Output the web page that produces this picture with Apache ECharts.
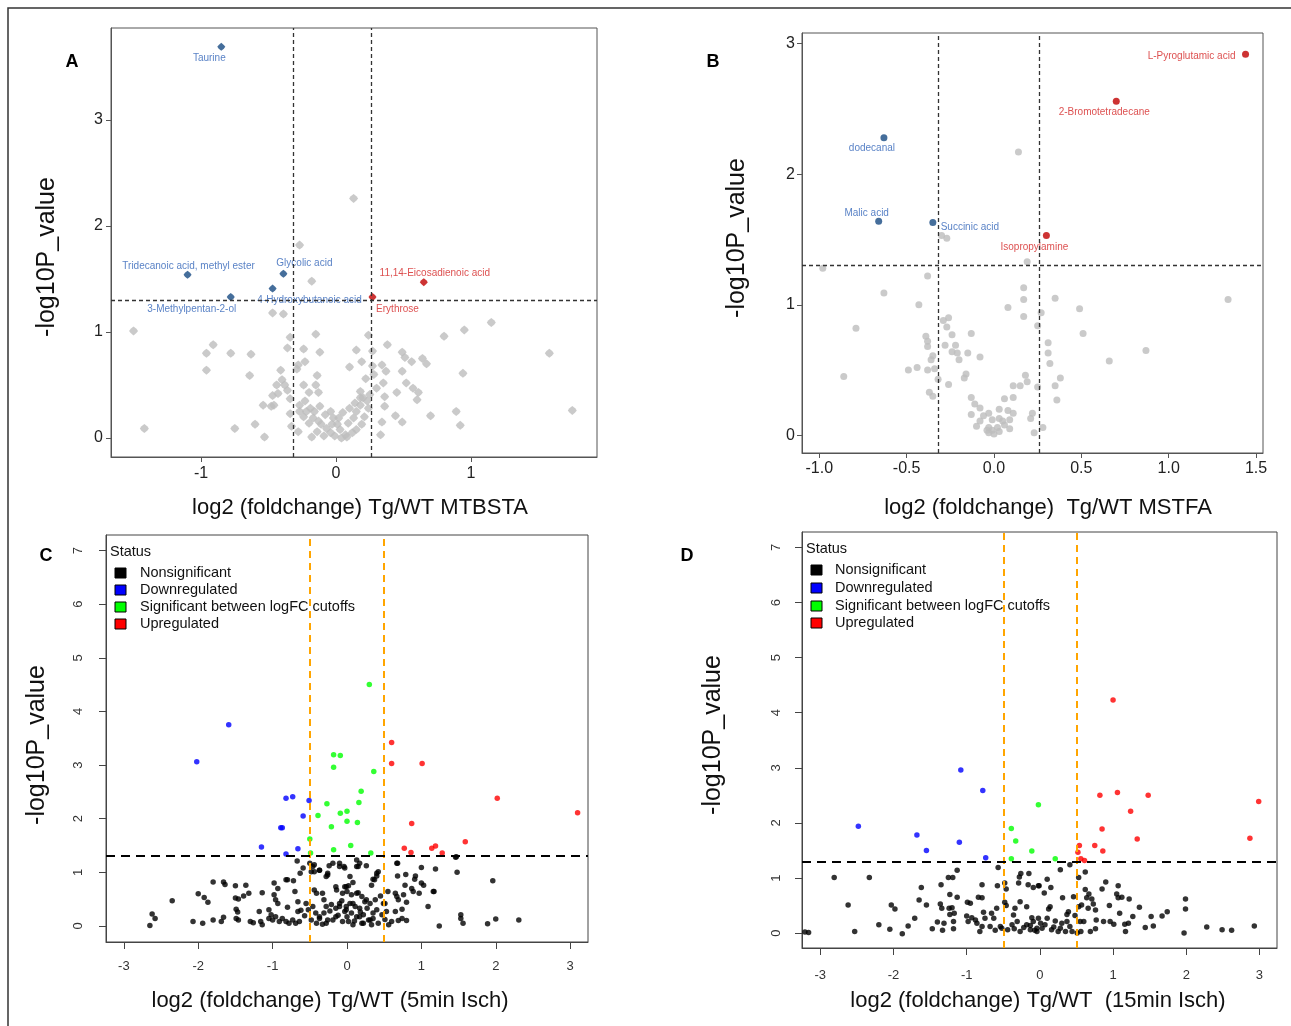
<!DOCTYPE html>
<html>
<head>
<meta charset="utf-8">
<script src="https://cdn.jsdelivr.net/npm/echarts@6/dist/echarts.min.js"></script>
<style>
  html, body { margin: 0; padding: 0; background: #fff; }
  #chart { width: 1291px; height: 1026px; }
</style>
</head>
<body>
<div id="chart"></div>
<script>
// ---- panel A (MTBSTA) ----
var aXTicks = [-1, 0, 1];
var aYTicks = [0, 1, 2, 3];
var aGray = [
  [0.13,2.26],[-0.27,1.82],[-0.18,1.48],[-0.47,1.18],[-0.39,1.17],[-1.50,1.01],[1.15,1.09],[0.95,1.02],[0.80,0.96],[1.58,0.80],[1.75,0.26],[-1.42,0.09],
  [-0.91,0.88],[-0.96,0.80],[-0.78,0.80],[-0.63,0.79],[-0.96,0.64],[-0.64,0.59],[-0.75,0.09],[-0.60,0.13],[-0.53,0.01],
  [0.94,0.61],[0.89,0.25],[0.92,0.12],[0.70,0.21],
  [-0.34,0.95],[-0.15,0.98],[-0.36,0.85],[-0.24,0.84],[-0.12,0.81],[0.24,0.97],[0.38,0.88],[0.15,0.83],[0.27,0.82],
  [0.49,0.81],[0.51,0.76],[0.56,0.72],[0.64,0.75],[0.67,0.70],[0.49,0.63],[0.52,0.52],[0.57,0.47],[0.61,0.43],[0.60,0.36],
  [0.45,0.43],[0.44,0.21],[0.49,0.15],[0.34,0.69],[0.37,0.63],[0.35,0.52],[0.36,0.39],[0.36,0.30],[0.34,0.15],[0.33,0.03],
  [0.27,0.68],[0.22,0.56],[0.19,0.72],[0.10,0.67],[-0.23,0.72],[-0.28,0.69],[-0.14,0.59],[-0.41,0.64],[-0.40,0.55],
  [-0.44,0.50],[-0.38,0.50],[-0.36,0.45],[-0.24,0.50],[-0.15,0.50],[-0.13,0.43],[-0.20,0.43],[-0.47,0.40],[-0.43,0.42],
  [-0.54,0.31],[-0.48,0.30],[-0.46,0.31],[-0.34,0.37],[-0.34,0.23],[-0.33,0.11],[-0.28,0.06],[-0.18,0.01],[-0.29,0.65],
  [-0.27,0.31],[-0.23,0.35],[-0.19,0.28],[-0.16,0.25],[-0.12,0.30],[-0.08,0.22],[-0.04,0.25],[-0.02,0.19],[0.01,0.13],
  [0.03,0.08],[0.07,0.03],[0.09,0.14],[0.13,0.19],[0.15,0.25],[0.18,0.31],[0.20,0.38],[0.23,0.35],[0.24,0.28],[0.21,0.20],
  [0.19,0.13],[0.15,0.08],[0.12,0.05],[0.08,0.01],[0.04,0.00],[-0.01,0.02],[-0.04,0.05],[-0.07,0.09],[-0.11,0.13],
  [-0.13,0.16],[-0.17,0.19],[-0.20,0.14],[-0.24,0.20],[-0.27,0.25],[-0.22,0.25],[-0.14,0.06],[-0.09,0.02],[-0.03,0.13],
  [0.02,0.19],[0.05,0.24],[0.10,0.28],[0.14,0.33],[0.18,0.38],[0.25,0.41],[0.30,0.47],[0.28,0.60],[0.18,0.44]
];
var aDown = [[-0.85,3.69],[-1.10,1.54],[-0.78,1.33],[-0.47,1.41],[-0.39,1.55]];
var aDownNames = ['Taurine', 'Tridecanoic acid, methyl ester', '3-Methylpentan-2-ol', '4-Hydroxybutanoic acid', 'Glycolic acid'];
var aUp = [[0.27,1.33],[0.65,1.47]];
var aUpNames = ['Erythrose', '11,14-Eicosadienoic acid'];

// ---- panel B (MSTFA) ----
var bXTicks = [-1, -0.5, 0, 0.5, 1, 1.5];
var bYTicks = [0, 1, 2, 3];
var bGray = [
  [0.14,2.17],[-0.30,1.53],[-0.27,1.51],[0.19,1.33],[-0.98,1.28],[-0.38,1.22],[0.17,1.13],[-0.63,1.09],[0.17,1.04],[0.35,1.05],
  [1.34,1.04],[-0.43,1.00],[0.08,0.98],[0.49,0.97],[0.27,0.94],[0.17,0.91],[-0.26,0.90],[-0.29,0.88],[0.25,0.84],[-0.27,0.83],
  [-0.79,0.82],[-0.13,0.78],[-0.24,0.77],[0.51,0.78],[-0.39,0.76],[-0.38,0.72],[0.31,0.71],[-0.22,0.69],[-0.28,0.69],[-0.38,0.68],
  [-0.24,0.64],[-0.21,0.63],[-0.15,0.63],[0.31,0.63],[-0.08,0.60],[-0.35,0.61],[0.87,0.65],[-0.36,0.58],[-0.20,0.58],[0.66,0.57],
  [0.32,0.55],[-0.44,0.52],[-0.49,0.50],[-0.38,0.50],[-0.34,0.51],[-0.16,0.47],[-0.17,0.44],[-0.86,0.45],[0.38,0.44],[-0.32,0.43],
  [0.18,0.46],[0.19,0.41],[0.11,0.38],[0.15,0.38],[-0.26,0.39],[-0.37,0.33],[-0.35,0.30],[0.35,0.38],[0.25,0.37],[0.36,0.27],
  [-0.13,0.29],[0.11,0.29],[0.06,0.28],[-0.11,0.24],[-0.08,0.21],[0.03,0.20],[0.08,0.19],[-0.13,0.16],[-0.06,0.15],[-0.03,0.17],
  [-0.01,0.12],[0.03,0.13],[0.05,0.11],[0.09,0.12],[0.11,0.17],[0.21,0.13],[0.22,0.17],[-0.10,0.07],[-0.03,0.06],[-0.01,0.04],
  [0.02,0.06],[0.06,0.08],[0.09,0.05],[-0.03,0.02],[0.00,0.01],[0.03,0.03],[-0.04,0.04],[0.23,0.02],[0.28,0.06],[-0.08,0.11]
];
var bDown = [[-0.63,2.28],[-0.66,1.64],[-0.35,1.63]];
var bDownNames = ['dodecanal', 'Malic acid', 'Succinic acid'];
var bUp = [[1.44,2.92],[0.70,2.56],[0.30,1.53]];
var bUpNames = ['L-Pyroglutamic acid', '2-Bromotetradecane', 'Isopropylamine'];

// ---- panels C and D (ischemia) ----
var cdXTicks = [-3, -2, -1, 0, 1, 2, 3];
var cdYTicks = [0, 1, 2, 3, 4, 5, 6, 7];
var statusNames = ['Nonsignificant', 'Downregulated', 'Significant between logFC cutoffs', 'Upregulated'];

var cNon = [
  [-2.65,0.01],[-2.62,0.22],[-2.58,0.14],[-2.35,0.47],[-2.07,0.08],[-1.94,0.05],[-2.00,0.60],[-1.92,0.53],[-1.87,0.44],[-1.80,0.82],
  [-1.80,0.11],[-1.69,0.08],[-1.66,0.16],[-1.66,0.82],[-1.64,0.77],[-1.50,0.75],[-1.36,0.76],[-1.50,0.52],[-1.46,0.50],[-1.39,0.56],
  [-1.32,0.61],[-1.49,0.31],[-1.47,0.26],[-1.49,0.14],[-1.46,0.11],[-1.30,0.08],[-1.26,0.06],[-1.18,0.27],[-1.14,0.62],[-1.16,0.08],
  [-1.14,0.02],[-0.98,0.80],[-0.93,0.70],[-0.98,0.58],[-0.96,0.49],[-0.93,0.42],[-0.82,0.86],[-0.80,0.86],[-0.72,0.84],[-0.70,0.64],
  [-0.67,1.21],[-0.63,0.98],[-0.59,1.08],[-0.66,0.45],[-0.80,0.35],[-0.66,0.27],[-0.62,0.29],[-1.05,0.30],[-1.02,0.21],[-1.05,0.14],
  [-1.00,0.11],[-0.96,0.17],[-0.91,0.08],[-0.87,0.14],[-0.82,0.08],[-0.78,0.05],[-0.73,0.11],[-0.69,0.05],[-0.64,0.08],[-0.57,0.19],
  [-0.55,0.42],[-0.50,1.17],[-0.48,1.01],[-0.44,1.14],[-0.37,1.04],[-0.44,0.67],[-0.41,0.61],[-0.46,0.36],[-0.42,0.24],[-0.48,0.11],
  [-0.37,0.14],[-0.33,0.61],[-0.31,0.49],[-0.28,0.36],[-0.26,0.95],[-0.24,1.12],[-0.15,0.73],[-0.10,1.17],[-0.04,1.11],[-0.06,0.61],
  [-0.01,0.73],[-0.10,0.42],[-0.15,0.33],[-0.01,0.36],[-0.26,0.11],[-0.15,0.17],[-0.06,0.08],[-0.31,0.24],
  [0.13,1.23],[0.15,1.11],[0.26,1.12],[0.42,1.01],[0.40,0.93],[0.35,0.87],[0.68,1.17],[0.68,0.93],[0.79,0.96],[0.92,0.93],
  [0.91,0.87],[1.00,1.09],[1.19,1.06],[1.48,1.00],[1.47,1.29],[1.96,0.84],[0.08,0.81],[0.02,0.75],[0.33,0.76],[0.78,0.76],
  [0.87,0.70],[1.00,0.80],[1.03,0.76],[0.97,0.61],[0.89,0.64],[1.16,0.64],[0.55,0.64],[0.65,0.61],[0.67,0.55],[0.76,0.58],
  [0.69,0.49],[0.80,0.44],[0.51,0.42],[1.09,0.36],[0.53,0.27],[0.65,0.27],[0.74,0.31],[0.51,0.12],[0.60,0.08],[0.69,0.10],
  [0.74,0.14],[0.80,0.10],[0.56,0.02],[1.24,0.00],[1.53,0.21],[1.53,0.14],[1.56,0.05],[1.89,0.04],[2.00,0.13],[2.31,0.11],
  [0.00,0.64],[0.06,0.58],[0.15,0.62],[0.20,0.55],[0.24,0.45],[0.04,0.42],[0.11,0.36],[0.17,0.33],[-0.03,0.27],[0.06,0.24],
  [0.13,0.17],[0.22,0.21],[0.29,0.11],[0.35,0.14],[0.42,0.05],[0.02,0.08],[0.08,0.02],[0.20,0.05],[0.33,0.02],[0.31,0.42],
  [0.38,0.49],[0.40,0.30],[0.47,0.21],[0.49,0.42],[0.00,0.17],[0.67,1.17],[1.46,1.28],[1.17,0.64],
  [-0.10,0.36],[-0.01,0.30],[0.08,0.42],[0.13,0.61],[0.17,0.17],[-0.19,0.11],[-0.28,0.05],[-0.37,0.17],[-0.41,0.05],[0.22,0.05],
  [0.31,0.11],[0.35,0.24],[0.26,0.49],[-0.14,0.67],[-0.03,0.73],[0.04,0.92],[0.13,1.11],[0.17,1.17],[0.40,0.98],[0.37,0.86],
  [-0.28,0.92],[-0.26,0.98],[-0.19,1.17],[-0.10,1.11],[-0.03,1.08],[-0.46,1.11],[-0.44,1.01],[-0.37,1.04],
  [-0.23,0.28],[-0.21,0.40],[-0.12,0.20],[-0.07,0.47],[0.10,0.09],[0.18,0.26],[0.27,0.33],[-0.33,0.03],[-0.52,0.30],[0.45,0.56]
];
var cDown = [[-1.59,3.75],[-2.02,3.06],[-0.82,2.38],[-0.73,2.41],[-0.51,2.34],[-0.59,2.05],[-0.89,1.83],[-0.87,1.83],[-1.15,1.47],[-0.66,1.44],[-0.82,1.34]];
var cMid = [[0.30,4.50],[-0.18,3.19],[-0.09,3.18],[-0.18,2.96],[0.36,2.88],[0.19,2.51],[-0.27,2.28],[0.16,2.30],[-0.39,2.06],[-0.09,2.10],
  [0.00,2.14],[-0.21,1.85],[0.00,1.95],[0.14,1.93],[-0.50,1.62],[0.05,1.50],[-0.18,1.42],[0.32,1.36],[-0.49,1.36]];
var cUp = [[0.60,3.42],[0.60,3.03],[1.01,3.03],[2.02,2.38],[3.10,2.11],[0.87,1.91],[0.77,1.45],[0.86,1.37],[1.14,1.45],[1.19,1.49],[1.28,1.36],[1.59,1.57]];

var dNon = [
  [-3.21,0.02],[-3.16,0.01],[-2.81,1.01],[-2.33,1.01],[-2.62,0.51],[-2.53,0.03],[-2.20,0.15],[-2.05,0.07],[-2.03,0.51],[-1.98,0.44],
  [-1.88,-0.01],[-1.80,0.13],[-1.71,0.27],[-1.65,0.60],[-1.62,0.83],[-1.55,0.51],[-1.47,0.08],[-1.40,0.20],[-1.33,0.05],[-1.31,0.18],
  [-1.36,0.53],[-1.34,0.45],[-1.35,0.88],[-1.25,1.01],[-1.19,1.01],[-1.13,1.14],[-1.23,0.70],[-1.24,0.45],[-1.20,0.46],[-1.23,0.34],
  [-1.17,0.36],[-1.13,0.65],[-1.18,0.21],[-1.18,0.08],[-0.99,0.56],[-0.95,0.54],[-1.00,0.31],[-0.98,0.21],[-0.93,0.28],[-0.88,0.24],
  [-0.86,0.18],[-0.84,0.65],[-0.79,0.64],[-0.79,0.88],[-0.77,0.38],[-0.75,0.27],[-0.79,0.12],[-0.82,0.03],[-0.66,0.36],[-0.63,0.27],
  [-0.68,0.12],[-0.59,0.45],[-0.57,1.19],[-0.58,0.86],[-0.52,0.09],[-0.54,0.12],[-0.48,0.91],[-0.46,0.80],[-0.48,0.56],[-0.46,0.50],
  [-0.44,0.06],[-0.38,0.15],[-0.36,0.33],[-0.34,0.45],[-0.28,1.02],[-0.26,1.08],[-0.29,0.91],[-0.15,1.08],[-0.16,0.88],[-0.09,0.83],
  [-0.02,0.86],[-0.31,0.21],[-0.27,0.03],[-0.18,0.15],[-0.13,0.06],[-0.09,0.21],[-0.04,0.09],[-0.18,0.48],[-0.27,0.57],[-0.11,0.28],
  [0.28,1.15],[0.41,1.24],[0.53,1.01],[0.62,1.11],[0.10,0.98],[-0.01,0.86],[0.15,0.83],[0.06,0.73],[0.31,0.64],[0.46,0.66],
  [0.62,0.79],[0.67,0.71],[0.64,0.64],[0.71,0.62],[0.73,0.53],[0.85,0.80],[0.90,0.93],[1.07,0.86],[1.05,0.71],[1.12,0.65],
  [1.07,0.64],[1.22,0.62],[0.95,0.50],[1.36,0.47],[1.09,0.36],[1.27,0.30],[1.52,0.30],[1.67,0.31],[1.74,0.39],[1.99,0.62],
  [1.99,0.44],[1.97,0.00],[2.28,0.11],[2.49,0.06],[2.62,0.05],[2.93,0.13],[1.44,0.10],[1.55,0.13],[1.17,0.03],[1.16,0.16],
  [1.21,0.18],[1.01,0.16],[0.96,0.21],[0.87,0.21],[0.77,0.24],[0.76,0.08],[0.69,0.03],[0.55,0.21],[0.60,0.21],[0.56,0.03],
  [0.48,0.32],[0.53,0.48],[0.57,0.51],[0.66,0.45],[0.76,0.42],[0.39,0.39],[0.37,0.34],[0.14,0.48],[0.12,0.44],[-0.02,0.27],
  [0.10,0.27],[0.21,0.22],[0.30,0.18],[0.37,0.21],[0.41,0.12],[0.35,0.03],[0.25,0.03],[0.16,0.06],[0.03,0.09],[-0.04,0.03],
  [0.07,0.15],[0.44,0.03],[0.51,0.00],
  [-0.22,0.10],[-0.13,0.14],[-0.07,0.05],[0.01,0.18],[0.19,0.11],[-0.35,0.08],[-0.61,0.05],[0.28,0.09]
];
var dDown = [[-1.08,2.96],[-0.78,2.59],[-2.48,1.94],[-1.68,1.78],[-1.55,1.50],[-1.10,1.65],[-0.74,1.37]];
var dMid = [[-0.02,2.33],[-0.39,1.90],[-0.33,1.67],[-0.11,1.49],[-0.39,1.35],[0.21,1.35]];
var dUp = [[1.00,4.23],[0.82,2.50],[1.06,2.55],[1.48,2.50],[1.24,2.21],[2.99,2.39],[2.87,1.72],[1.33,1.71],[0.85,1.89],
  [0.54,1.59],[0.75,1.59],[0.86,1.49],[0.52,1.47],[0.56,1.35],[0.61,1.32]];

// cutoffs
var fcLowAB = Math.log2(0.8), fcHighAB = Math.log2(1.2), pCut = -Math.log10(0.05);

var FONT = 'Arial, "Liberation Sans", sans-serif';
// rounded diamond, like the exported Excel markers
var RDIAMOND = 'path://M5,0 L8.2,2.6 L10,5 L8.2,7.4 L5,10 L1.8,7.4 L0,5 L1.8,2.6 Z';
var chart = echarts.init(document.getElementById('chart'));

function labelled(points, names, offsets) {
    return points.map(function(p, i) {
        return { value: p, name: names[i], label: { offset: offsets[i] } };
    });
}

function makeAxis(gi, min, max, ticks, o) {
    return {
        gridIndex: gi, type: 'value', min: min, max: max,
        splitLine: { show: false },
        axisLine: { show: true, onZero: false, lineStyle: { color: o.lc, width: 1 } },
        axisTick: { show: true, customValues: ticks, length: o.tl, lineStyle: { color: o.lc } },
        axisLabel: {
            customValues: ticks, fontSize: o.fs, color: o.tc, margin: o.margin, fontFamily: FONT,
            rotate: o.rotate || 0, formatter: o.fmt || function(v) { return String(v); }
        }
    };
}

function abLines(lc) {
    var ls = { color: lc, type: [4, 3], width: 1.3 };
    return {
        silent: true, symbol: 'none', label: { show: false }, animation: false,
        data: [{ xAxis: fcLowAB, lineStyle: ls }, { xAxis: fcHighAB, lineStyle: ls }, { yAxis: pCut, lineStyle: ls }]
    };
}
function cdLines() {
    var orange = { color: '#FFA500', type: [7, 5], width: 2 };
    return {
        silent: true, symbol: 'none', label: { show: false }, animation: false,
        data: [{ xAxis: -0.5, lineStyle: orange }, { xAxis: 0.5, lineStyle: orange },
               { yAxis: 1.3, lineStyle: { color: '#000', type: [9, 6], width: 1.8 } }]
    };
}

var blueLbl = { show: true, position: 'inside', formatter: '{b}', color: '#2f63b8', fontSize: 10, fontFamily: FONT };
var redLbl = { show: true, position: 'inside', formatter: '{b}', color: '#d42424', fontSize: 10, fontFamily: FONT };

function cdSeries(gi, non, down, mid, up) {
    var base = { type: 'scatter', xAxisIndex: gi, yAxisIndex: gi, symbol: 'circle', symbolSize: 5.5 };
    return [
        Object.assign({}, base, { name: statusNames[0], data: non, itemStyle: { color: '#000' }, markLine: cdLines() }),
        Object.assign({}, base, { name: statusNames[1], data: down, itemStyle: { color: '#0000FF' } }),
        Object.assign({}, base, { name: statusNames[2], data: mid, itemStyle: { color: '#00FF00' } }),
        Object.assign({}, base, { name: statusNames[3], data: up, itemStyle: { color: '#FF0000' } })
    ];
}

function legendGraphics(x0, yTitle, yItems, xText) {
    var els = [{ type: 'text', x: x0, y: yTitle, style: { text: 'Status', fontSize: 14.5, fontFamily: FONT, fill: '#111', textVerticalAlign: 'middle' } }];
    var cols = ['#000', '#0000FF', '#00FF00', '#FF0000'];
    statusNames.forEach(function(n, i) {
        els.push({ type: 'rect', shape: { x: x0 + 5, y: yItems[i] - 5, width: 11, height: 10 }, style: { fill: cols[i], stroke: '#000', lineWidth: 1 } });
        els.push({ type: 'text', x: xText, y: yItems[i], style: { text: n, fontSize: 14.5, fontFamily: FONT, fill: '#111', textVerticalAlign: 'middle' } });
    });
    return els;
}

function title(x, y, txt, rot, size) {
    return { type: 'text', x: x, y: y, rotation: rot ? Math.PI / 2 : 0,
        style: { text: txt, fontSize: size, fontFamily: FONT, fill: '#111', textAlign: 'center', textVerticalAlign: 'middle' } };
}
function letter(x, y, txt) {
    return { type: 'text', x: x, y: y, style: { text: txt, fontSize: 18, fontWeight: 'bold', fontFamily: FONT, fill: '#000', textAlign: 'center', textVerticalAlign: 'middle' } };
}

var abAxis = { lc: '#555', tc: '#222', tl: 5, fs: 16, margin: 9 };
var cdAxis = { lc: '#444', tc: '#333', tl: 7, fs: 13, margin: 18 };

var option = {
    animation: false,
    backgroundColor: '#fff',
    grid: [
        { left: 111, top: 28, width: 486, height: 429, show: true, borderColor: '#555', borderWidth: 1 },
        { left: 802, top: 33, width: 461, height: 420, show: true, borderColor: '#555', borderWidth: 1 },
        { left: 106, top: 535, width: 482, height: 407, show: true, borderColor: '#444', borderWidth: 1 },
        { left: 802, top: 532, width: 475, height: 416, show: true, borderColor: '#444', borderWidth: 1 }
    ],
    xAxis: [
        makeAxis(0, -1.667, 1.933, aXTicks, abAxis),
        makeAxis(1, -1.099, 1.540, bXTicks, Object.assign({}, abAxis, { margin: 8, fmt: function(v) { return v.toFixed(1); } })),
        makeAxis(2, -3.24, 3.24, cdXTicks, cdAxis),
        makeAxis(3, -3.25, 3.24, cdXTicks, Object.assign({}, cdAxis, { margin: 21 }))
    ],
    yAxis: [
        makeAxis(0, -0.179, 3.868, aYTicks, Object.assign({}, abAxis, { margin: 8 })),
        makeAxis(1, -0.135, 3.082, bYTicks, Object.assign({}, abAxis, { margin: 7 })),
        makeAxis(2, -0.30, 7.29, cdYTicks, Object.assign({}, cdAxis, { rotate: 90, margin: 21 })),
        makeAxis(3, -0.27, 7.28, cdYTicks, Object.assign({}, cdAxis, { rotate: 90, margin: 19 }))
    ],
    series: [
        { type: 'scatter', name: 'A other', xAxisIndex: 0, yAxisIndex: 0, symbol: RDIAMOND, symbolSize: 9,
          data: aGray, itemStyle: { color: '#BDBDBD' }, markLine: abLines('#333') },
        { type: 'scatter', name: 'A down', xAxisIndex: 0, yAxisIndex: 0, symbol: RDIAMOND, symbolSize: 8, z: 3,
          data: labelled(aDown, aDownNames, [[-12, 11], [1, -9], [-39, 12], [37, 12], [21, -10]]),
          itemStyle: { color: '#174a82' }, label: blueLbl },
        { type: 'scatter', name: 'A up', xAxisIndex: 0, yAxisIndex: 0, symbol: RDIAMOND, symbolSize: 8, z: 3,
          data: labelled(aUp, aUpNames, [[25, 12], [11, -9]]),
          itemStyle: { color: '#C00000' }, label: redLbl },

        { type: 'scatter', name: 'B other', xAxisIndex: 1, yAxisIndex: 1, symbol: 'circle', symbolSize: 7,
          data: bGray, itemStyle: { color: '#BDBDBD' }, markLine: abLines('#333') },
        { type: 'scatter', name: 'B down', xAxisIndex: 1, yAxisIndex: 1, symbol: 'circle', symbolSize: 7, z: 3,
          data: labelled(bDown, bDownNames, [[-12, 11], [-12, -8], [37, 5]]),
          itemStyle: { color: '#174a82' }, label: blueLbl },
        { type: 'scatter', name: 'B up', xAxisIndex: 1, yAxisIndex: 1, symbol: 'circle', symbolSize: 7, z: 3,
          data: labelled(bUp, bUpNames, [[-54, 2], [-12, 11], [-12, 12]]),
          itemStyle: { color: '#C00000' }, label: redLbl }
    ].concat(cdSeries(2, cNon, cDown, cMid, cUp), cdSeries(3, dNon, dDown, dMid, dUp)),
    graphic: [
        { type: 'rect', shape: { x: 8, y: 8, width: 1400, height: 1100 }, style: { fill: 'none', stroke: '#333', lineWidth: 1.5 }, silent: true },
        letter(72, 62, 'A'), letter(713, 62, 'B'), letter(46, 556, 'C'), letter(687, 556, 'D'),
        title(47, 257, '-log10P_value', true, 25),
        title(737, 238, '-log10P_value', true, 25),
        title(37, 745, '-log10P_value', true, 25),
        title(713, 735, '-log10P_value', true, 25),
        title(360, 508, 'log2 (foldchange) Tg/WT MTBSTA', false, 22),
        title(1048, 508, 'log2 (foldchange)  Tg/WT MSTFA', false, 22),
        title(330, 1001, 'log2 (foldchange) Tg/WT (5min Isch)', false, 22),
        title(1038, 1001, 'log2 (foldchange) Tg/WT  (15min Isch)', false, 22)
    ].concat(legendGraphics(110, 552, [573, 590, 607, 624], 140),
             legendGraphics(806, 549, [570, 588, 606, 623], 835))
};

chart.setOption(option);
window.onresize = function() { chart.resize(); };
</script>
</body>
</html>
